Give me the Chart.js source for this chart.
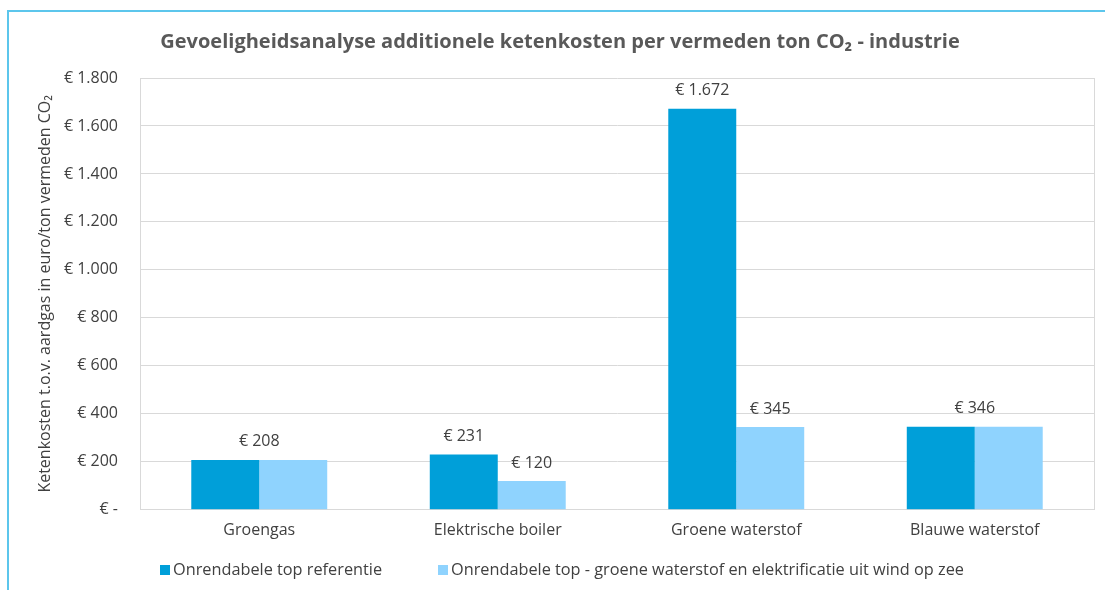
<!DOCTYPE html>
<html>
<head>
<meta charset="utf-8">
<script src="https://cdn.jsdelivr.net/npm/chart.js@4.4.1/dist/chart.umd.min.js"></script>
<style>
  html, body { margin: 0; padding: 0; background: #ffffff; }
  #wrap { position: relative; width: 1105px; height: 590px; }
</style>
</head>
<body>
<div id="wrap"><canvas id="c" width="1105" height="590"></canvas></div>
<script>
// ---- Data ----
const categories = ["Groengas", "Elektrische boiler", "Groene waterstof", "Blauwe waterstof"];
const seriesNames = [
  "Onrendabele top referentie",
  "Onrendabele top - groene waterstof en elektrificatie uit wind op zee"
];
const referentieValues = [208, 231, 1672, 346];
const windOpZeeValues = [208, 120, 345, 346];
const yTickMin = 0;
const yTickMax = 1800;
const yTickStep = 200;

const chartTitle = "Gevoeligheidsanalyse additionele ketenkosten per vermeden ton CO\u2082 - industrie";
const yAxisTitle = "Ketenkosten t.o.v. aardgas in euro/ton vermeden CO\u2082";

const FONT = "'Open Sans', 'DejaVu Sans', sans-serif";
const TEXT = "#404040";
const COLORS = ["#009fd9", "#8fd3fe"];

function formatEuro(v) {
  if (v === 0) return "\u20AC -";
  return "\u20AC " + String(v).replace(/\B(?=(\d{3})+(?!\d))/g, ".");
}

const framePlugin = {
  id: "frame",
  beforeDraw(chart) {
    const ctx = chart.ctx;
    ctx.save();
    ctx.fillStyle = "#ffffff";
    ctx.fillRect(0, 0, chart.width, chart.height);
    ctx.strokeStyle = "#5cc6ec";
    ctx.lineWidth = 2;
    ctx.beginPath();
    ctx.moveTo(8, chart.height);
    ctx.lineTo(8, 11);
    ctx.lineTo(chart.width, 11);
    ctx.stroke();
    ctx.restore();
  },
  afterDatasetsDraw(chart) {
    const ctx = chart.ctx;
    const a = chart.chartArea;
    ctx.save();
    ctx.strokeStyle = "#d9d9d9";
    ctx.lineWidth = 1;
    ctx.beginPath();
    ctx.moveTo(Math.round(a.right) + 0.5, a.top);
    ctx.lineTo(Math.round(a.right) + 0.5, a.bottom);
    ctx.stroke();
    // data labels
    ctx.font = "16px " + FONT;
    ctx.fillStyle = TEXT;
    ctx.textAlign = "center";
    ctx.textBaseline = "bottom";
    const m0 = chart.getDatasetMeta(0);
    const m1 = chart.getDatasetMeta(1);
    categories.forEach((c, i) => {
      const b0 = m0.data[i], b1 = m1.data[i];
      const v0 = referentieValues[i], v1 = windOpZeeValues[i];
      if (v0 === v1) {
        const x = (b0.x + b1.x) / 2;
        ctx.fillText(formatEuro(v0), x, Math.min(b0.y, b1.y) - 10);
      } else {
        ctx.fillText(formatEuro(v0), b0.x, b0.y - 10);
        ctx.fillText(formatEuro(v1), b1.x, b1.y - 10);
      }
    });
    // legend
    ctx.font = "16.3px " + FONT;
    ctx.textAlign = "left";
    ctx.textBaseline = "middle";
    const ly = 570;
    const lx = [160, 438];
    chart.data.datasets.forEach((ds, k) => {
      ctx.fillStyle = ds.backgroundColor;
      ctx.fillRect(lx[k], ly - 5, 10, 10);
      ctx.fillStyle = TEXT;
      ctx.fillText(ds.label, lx[k] + 13, ly);
    });
    ctx.restore();
  }
};

new Chart(document.getElementById("c"), {
  type: "bar",
  data: {
    labels: categories,
    datasets: [
      { label: seriesNames[0], data: referentieValues, backgroundColor: COLORS[0], borderWidth: 0 },
      { label: seriesNames[1], data: windOpZeeValues, backgroundColor: COLORS[1], borderWidth: 0 }
    ]
  },
  options: {
    responsive: false,
    animation: false,
    devicePixelRatio: 1,
    layout: { padding: { left: 26, right: 11, top: 10, bottom: 39 } },
    datasets: { bar: { categoryPercentage: 0.57, barPercentage: 1.0 } },
    plugins: {
      title: {
        display: true,
        text: chartTitle,
        color: "#595959",
        font: { family: FONT, size: 20, weight: "bold" },
        padding: { top: 20, bottom: 24 }
      },
      legend: { display: false },
      tooltip: { enabled: false }
    },
    scales: {
      x: {
        grid: { display: false, drawTicks: false },
        border: { display: true, color: "#d9d9d9" },
        ticks: { color: TEXT, font: { family: FONT, size: 16 }, padding: 11 }
      },
      y: {
        min: yTickMin,
        max: yTickMax,
        afterFit(scale) { scale.width = 114; },
        grid: { color: "#d9d9d9", drawTicks: false },
        border: { display: true, color: "#d9d9d9" },
        ticks: {
          stepSize: yTickStep,
          color: TEXT,
          font: { family: FONT, size: 16 },
          padding: 22,
          callback: (v) => formatEuro(v)
        },
        title: {
          display: true,
          text: yAxisTitle,
          color: TEXT,
          font: { family: FONT, size: 16 },
          padding: { top: 10, bottom: 0 }
        }
      }
    }
  },
  plugins: [framePlugin]
});
</script>
</body>
</html>
